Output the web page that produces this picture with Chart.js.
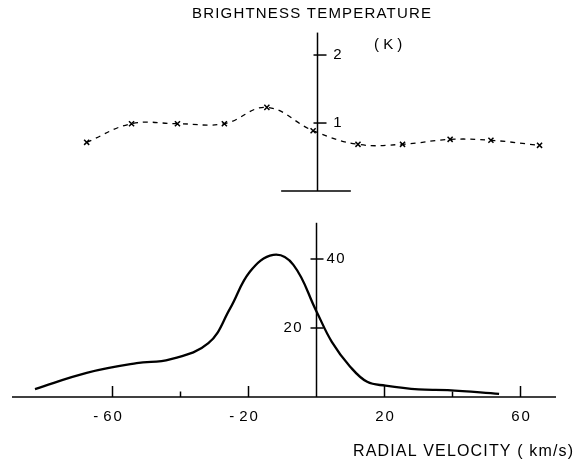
<!DOCTYPE html>
<html><head><meta charset="utf-8">
<script src="https://cdn.jsdelivr.net/npm/chart.js@4/dist/chart.umd.min.js"></script>
<style>html,body{margin:0;padding:0;background:#fff}#wrap{width:576px;height:464px}</style>
</head><body><div id="wrap"><canvas id="c" width="576" height="464"></canvas></div>
<script>
// Top panel: brightness temperature (K), dashed with x markers
const topVelocity = [-67.6, -54.4, -40.9, -27.1, -14.6, -1.0, 12.2, 25.3, 39.3, 51.3, 65.6];
const topTemp     = [0.716, 0.99, 0.99, 0.99, 1.23, 0.887, 0.687, 0.687, 0.76, 0.746, 0.672];
// Bottom panel: solid profile
const botVelocity = [-82.8, -67.6, -52.9, -43.1, -31.8, -25.4, -19.6, -12.7, -6.8, 0.0, 4.5, 9.9, 14.9, 20.3, 30.0, 38.6, 53.7];
const botTemp     = [2.3, 7.0, 9.8, 10.9, 15.6, 25.7, 36.3, 41.2, 38.3, 24.8, 16.0, 8.8, 4.4, 3.3, 2.2, 2.0, 0.9];
// Axis ticks and labels
const xTicks = [-60, -40, -20, 20, 40, 60];
const xTickLabels = ['-60', '', '-20', '20', '', '60'];
const botYTicks = [20, 40];
const topYTicks = [1, 2];

const FAMILY = '"Liberation Sans", Arial, sans-serif';
function txt(ctx, s, x, y, align, width, size) {
  ctx.save();
  ctx.font = (size || 15) + 'px ' + FAMILY;
  ctx.letterSpacing = '0px';
  const w = ctx.measureText(s).width;
  const sp = width ? Math.max(0, (width - w) / Math.max(1, s.length - 1)) : 0;
  ctx.letterSpacing = sp + 'px';
  const total = w + sp * (s.length - 1);
  let x0 = x;
  if (align === 'center') x0 = x - total / 2;
  else if (align === 'right') x0 = x - total;
  ctx.textAlign = 'left';
  ctx.textBaseline = 'middle';
  ctx.fillStyle = '#000';
  ctx.fillText(s, x0, y);
  ctx.restore();
  return total;
}

const axesPlugin = {
  id: 'axesPlugin',
  afterDatasetsDraw(chart) {
    const ctx = chart.ctx;
    const x = chart.scales.x, yb = chart.scales.yBot, yt = chart.scales.yTop;
    ctx.save();
    ctx.strokeStyle = '#000';
    ctx.lineWidth = 1.5;
    // bottom x axis
    const y0 = yb.getPixelForValue(0);
    ctx.beginPath();
    ctx.moveTo(x.left, y0); ctx.lineTo(x.right, y0); ctx.stroke();
    xTicks.forEach((v, i) => {
      const px = x.getPixelForValue(v);
      const len = xTickLabels[i] ? 11 : 5.5;
      ctx.beginPath(); ctx.moveTo(px, y0); ctx.lineTo(px, y0 - len); ctx.stroke();
      const lab = xTickLabels[i];
      if (lab) {
        const digits = lab.replace('-', '');
        ctx.font = '15px ' + FAMILY;
        const w = ctx.measureText(digits).width + 2;
        txt(ctx, digits, px - w / 2, y0 + 20, 'left', w);
        if (lab[0] === '-') txt(ctx, '-', px - w / 2 - 5, y0 + 20, 'right', 0);
      }
    });
    // bottom vertical axis
    const ax = x.getPixelForValue(0);
    ctx.beginPath(); ctx.moveTo(ax, y0); ctx.lineTo(ax, yb.getPixelForValue(50.5)); ctx.stroke();
    botYTicks.forEach(v => {
      const py = yb.getPixelForValue(v);
      ctx.beginPath(); ctx.moveTo(ax - 6, py); ctx.lineTo(ax + 7, py); ctx.stroke();
    });
    txt(ctx, '40', ax + 10, yb.getPixelForValue(40), 'left', 18);
    txt(ctx, '20', ax - 15, yb.getPixelForValue(20), 'right', 18);
    // top panel axes
    const t0 = yt.getPixelForValue(0);
    const tx = ax + 1;
    ctx.beginPath(); ctx.moveTo(x.getPixelForValue(-10.4), t0); ctx.lineTo(x.getPixelForValue(10.1), t0); ctx.stroke();
    ctx.beginPath(); ctx.moveTo(tx, t0); ctx.lineTo(tx, yt.getPixelForValue(2.33)); ctx.stroke();
    topYTicks.forEach(v => {
      const py = yt.getPixelForValue(v);
      ctx.beginPath(); ctx.moveTo(tx - 4, py); ctx.lineTo(tx + 9, py); ctx.stroke();
      txt(ctx, String(v), tx + 20, py, 'center', 0);
    });
    // texts
    txt(ctx, 'BRIGHTNESS TEMPERATURE', 192, 14, 'left', 239);
    txt(ctx, '( K )', 374, 45, 'left', 26);
    txt(ctx, 'RADIAL VELOCITY ( km/s)', 353, 452, 'left', 220, 16);
    ctx.restore();
  }
};

new Chart(document.getElementById('c'), {
  type: 'line',
  data: {
    datasets: [
      {
        data: topVelocity.map((v, i) => ({x: v, y: topTemp[i]})),
        yAxisID: 'yTop',
        borderColor: '#000', borderWidth: 1.3, borderDash: [5, 5],
        tension: 0.4,
        pointStyle: 'crossRot', pointRadius: 3.6, pointBorderWidth: 1.5,
        pointBorderColor: '#000', pointBackgroundColor: '#000'
      },
      {
        data: botVelocity.map((v, i) => ({x: v, y: botTemp[i]})),
        yAxisID: 'yBot',
        borderColor: '#000', borderWidth: 2.3,
        tension: 0.4,
        pointRadius: 0
      }
    ]
  },
  options: {
    responsive: false,
    animation: false,
    devicePixelRatio: 1,
    layout: {padding: {left: 12, right: 20, top: 20, bottom: 67}},
    plugins: {legend: {display: false}, tooltip: {enabled: false}},
    scales: {
      x: {type: 'linear', min: -89.56, max: 70.44, display: false},
      yBot: {type: 'linear', min: 0, max: 109.28, display: false},
      yTop: {type: 'linear', min: -3.029, max: 2.515, display: false}
    }
  },
  plugins: [axesPlugin]
});
</script></body></html>
